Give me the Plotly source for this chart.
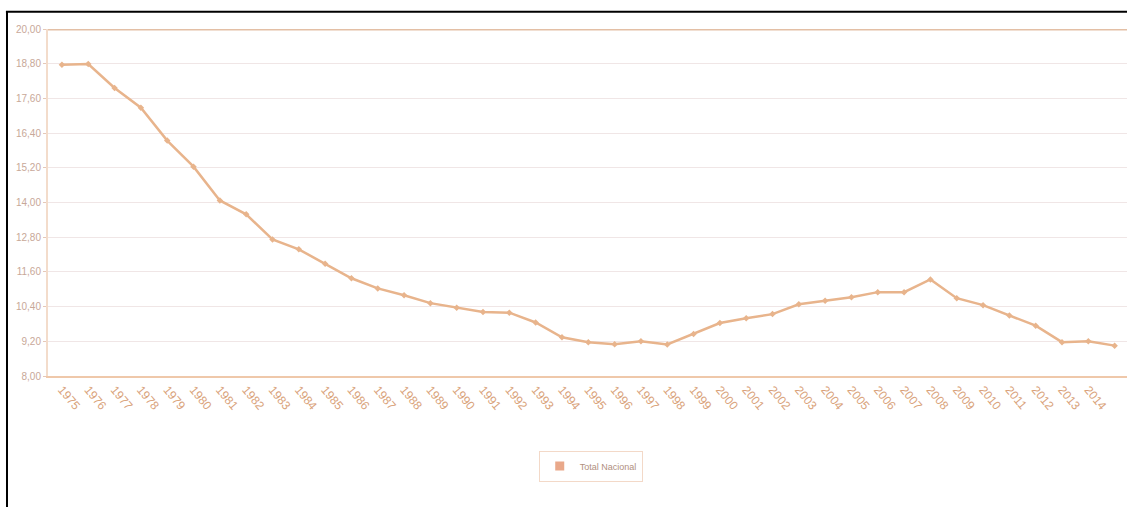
import plotly.graph_objects as go

years = list(range(1975, 2016))
values = [18.76, 18.79, 17.96, 17.28, 16.14, 15.24, 14.07, 13.59, 12.72, 12.38,
          11.88, 11.38, 11.03, 10.79, 10.52, 10.36, 10.21, 10.19, 9.85, 9.34,
          9.17, 9.10, 9.20, 9.09, 9.45, 9.83, 10.00, 10.14, 10.48, 10.60,
          10.72, 10.90, 10.90, 11.34, 10.69, 10.45, 10.09, 9.74, 9.17, 9.20, 9.05]
series_name = "Total Nacional"
y_ticks = [8.0 + 1.2 * i for i in range(11)]

line_color = "#E8B48C"
text_color = "#D9A27A"

fig = go.Figure()
fig.add_trace(go.Scatter(
    x=years, y=values, mode="lines+markers", name=series_name,
    line=dict(color=line_color, width=2.5),
    marker=dict(symbol="diamond", size=5, color=line_color),
    showlegend=False,
))
fig.add_trace(go.Scatter(
    x=[None], y=[None], mode="markers", name=series_name,
    marker=dict(symbol="square", size=9, color="#E9A88A"),
))

fig.update_layout(
    width=1127, height=507,
    margin=dict(l=48, r=0, t=29, b=131),
    paper_bgcolor="white", plot_bgcolor="white",
    separators=",.",
    font=dict(family="Liberation Sans Narrow, Liberation Sans, sans-serif", size=10, color=text_color),
    legend=dict(orientation="h", x=0.503, xanchor="center", y=-0.215, yanchor="top",
                bordercolor="#F3D9C8", borderwidth=1, itemwidth=30,
                font=dict(size=9, color="#B09080")),
    xaxis=dict(
        range=[1974.47, 2015.47], tickvals=years, ticktext=[str(y) for y in years],
        tickangle=50, showgrid=False, showline=True, linecolor="#EFC8AA", linewidth=2,
        mirror=False, ticks="", tickfont=dict(size=12, color=text_color), zeroline=False,
    ),
    yaxis=dict(
        range=[8, 20], tickvals=y_ticks, tickformat=".2f",
        showgrid=True, gridcolor="#F0E6E6", gridwidth=1,
        showline=True, linecolor="#F3DCCB", linewidth=2, ticks="outside", ticklen=3,
        tickcolor="#E5C8B8", tickfont=dict(size=10, color="#C8A898"), zeroline=False,
    ),
    shapes=[
        dict(type="line", xref="paper", yref="y", x0=0, x1=1, y0=20, y1=20,
             line=dict(color="#E3BFA5", width=3)),
        dict(type="line", xref="paper", yref="paper", x0=-0.038, x1=-0.038, y0=1.05, y1=-0.38,
             line=dict(color="black", width=2)),
        dict(type="line", xref="paper", yref="paper", x0=-0.039, x1=1.01, y0=1.05, y1=1.05,
             line=dict(color="black", width=2)),
    ],
)

fig.write_html("out.html")
